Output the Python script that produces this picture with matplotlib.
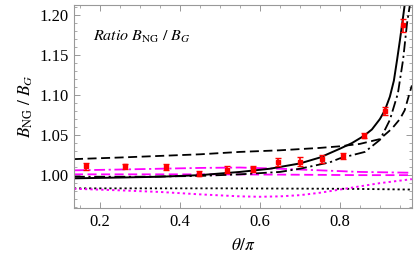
import numpy as np
import matplotlib.pyplot as plt
from matplotlib.ticker import MultipleLocator

plt.rcParams['font.family'] = ['Liberation Serif', 'DejaVu Serif']
plt.rcParams['mathtext.fontset'] = 'stix'

# === data points (red, with error bars) ===
th_pts = [0.164, 0.262, 0.364, 0.4475, 0.518, 0.583, 0.644, 0.700, 0.756, 0.808, 0.860, 0.9125, 0.957]
r_pts = [1.011, 1.011, 1.010, 1.002, 1.007, 1.0075, 1.017, 1.017, 1.020, 1.024, 1.049, 1.080, 1.187]
r_err = [0.004, 0.003, 0.004, 0.003, 0.004, 0.004, 0.005, 0.006, 0.005, 0.004, 0.003, 0.005, 0.008]

# === curves ===
th_solid = [0.135, 0.25, 0.35, 0.45, 0.55, 0.625, 0.70, 0.75, 0.80, 0.83, 0.86, 0.88, 0.90, 0.9125,
            0.925, 0.935, 0.943, 0.95, 0.956, 0.962, 0.97]
r_solid = [0.996, 0.997, 0.998, 1.000, 1.004, 1.008, 1.0146, 1.022, 1.033, 1.040, 1.049, 1.057, 1.070, 1.081,
           1.098, 1.118, 1.144, 1.168, 1.190, 1.2125, 1.25]

th_dashdot = [0.135, 0.30, 0.45, 0.55, 0.65, 0.70, 0.775, 0.80, 0.8625, 0.90, 0.925, 0.945, 0.958, 0.968,
              0.975, 0.98]
r_dashdot = [0.998, 0.998, 0.999, 1.001, 1.004, 1.008, 1.016, 1.021, 1.029, 1.044, 1.069, 1.102, 1.144, 1.190,
             1.2125, 1.24]

th_dashed = [0.135, 0.25, 0.35, 0.45, 0.55, 0.65, 0.75, 0.80, 0.85, 0.90, 0.93, 0.95, 0.962, 0.97, 0.98]
r_dashed = [1.020, 1.022, 1.024, 1.026, 1.029, 1.031, 1.034, 1.036, 1.039, 1.045, 1.058, 1.070, 1.081, 1.095, 1.112]

th_m_dashdot = [0.135, 0.25, 0.35, 0.45, 0.55, 0.65, 0.75, 0.85, 0.98]
r_m_dashdot = [1.006, 1.007, 1.008, 1.009, 1.0095, 1.008, 1.006, 1.004, 1.003]

th_m_dashed = [0.135, 0.30, 0.50, 0.70, 0.85, 0.98]
r_m_dashed = [1.001, 1.001, 1.001, 1.0005, 1.000, 1.000]

th_k_dotted = [0.135, 0.50, 0.80, 0.98]
r_k_dotted = [0.9835, 0.9835, 0.983, 0.982]

th_m_dotted = [0.135, 0.25, 0.35, 0.45, 0.55, 0.60, 0.65, 0.70, 0.75, 0.80, 0.85, 0.90, 0.98]
r_m_dotted = [0.983, 0.981, 0.979, 0.976, 0.9735, 0.973, 0.9735, 0.975, 0.978, 0.982, 0.986, 0.990, 0.995]

mag = '#ff00ff'

fig = plt.figure(figsize=(4.19, 2.59), dpi=100)
ax = fig.add_axes([0.1766, 0.197, 0.8064, 0.784])

ax.plot(th_k_dotted, r_k_dotted, color='black', ls=(0, (1.2, 1.6)), lw=1.3)
ax.plot(th_m_dotted, r_m_dotted, color=mag, ls=(0, (1.2, 1.6)), lw=1.4)
ax.plot(th_m_dashed, r_m_dashed, color=mag, ls=(0, (5, 2.5)), lw=1.3)
ax.plot(th_m_dashdot, r_m_dashdot, color=mag, ls=(0, (6, 2, 1.2, 2)), lw=1.3)
ax.plot(th_dashed, r_dashed, color='black', ls=(0, (5, 2.5)), lw=1.3)
ax.plot(th_dashdot, r_dashdot, color='black', ls=(0, (6, 2, 1.2, 2)), lw=1.3)
ax.plot(th_solid, r_solid, color='black', lw=1.4)

ax.errorbar(th_pts, r_pts, yerr=r_err, fmt='s', color='red', ms=3, capsize=2, elinewidth=1.2,
            capthick=1.0, zorder=5)

ax.text(0.182, 1.1725, r'$Ratio\ B_{\mathrm{NG}}\ /\ B_G$', fontsize=11.5, va='center')

ax.set_xlim(0.135, 0.98)
ax.set_ylim(0.959, 1.2125)
ax.set_xlabel(r'$\theta/\pi$', fontsize=12.5, labelpad=6)
ax.set_ylabel(r'$B_{\mathrm{NG}}\ /\ B_G$', fontsize=12.5, labelpad=3)

ax.xaxis.set_major_locator(MultipleLocator(0.2))
ax.xaxis.set_minor_locator(MultipleLocator(0.05))
ax.yaxis.set_major_locator(MultipleLocator(0.05))
ax.yaxis.set_minor_locator(MultipleLocator(0.01))
ax.xaxis.set_major_formatter(plt.FuncFormatter(lambda v, p: f'{v:.1f}'))
ax.yaxis.set_major_formatter(plt.FuncFormatter(lambda v, p: f'{v:.2f}'))
ax.tick_params(which='both', direction='in', top=True, right=True, color='#888888', labelsize=12)
ax.tick_params(which='major', length=4, width=0.6, pad=4)
ax.tick_params(which='minor', length=2, width=0.5)
for s in ax.spines.values():
    s.set_color('#999999')
    s.set_linewidth(0.8)

fig.savefig('out.png', dpi=100)
